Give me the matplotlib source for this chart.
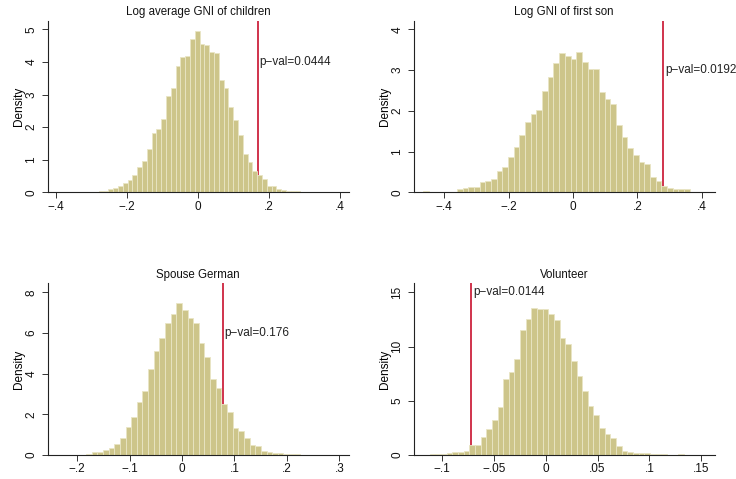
import matplotlib
matplotlib.use("Agg")
import matplotlib.pyplot as plt
import numpy as np

plt.rcParams['font.family'] = ['Liberation Sans', 'DejaVu Sans']

# --- data (density per bin, 50 bins per panel) ---
titles = ['Log average GNI of children', 'Log GNI of first son',
          'Spouse German', 'Volunteer']

dens_gni_children = [0.01, 0.02, 0.0, 0.0, 0.0, 0.01, 0.02, 0.03, 0.05, 0.09,
                     0.14, 0.2, 0.3, 0.37, 0.54, 0.77, 0.96, 1.33, 1.83, 1.95,
                     2.24, 2.95, 3.21, 3.87, 4.16, 4.2, 4.71, 4.95, 4.55, 4.52,
                     4.31, 4.28, 3.45, 3.19, 2.61, 2.22, 1.76, 1.18, 0.94, 0.66,
                     0.53, 0.4, 0.21, 0.19, 0.09, 0.06, 0.05, 0.04, 0.03, 0.02]
dens_gni_son = [0.03, 0.0, 0.02, 0.02, 0.02, 0.02, 0.08, 0.11, 0.13, 0.13,
                0.25, 0.29, 0.32, 0.52, 0.62, 0.88, 1.12, 1.4, 1.73, 1.92,
                2.03, 2.48, 2.83, 3.17, 3.41, 3.35, 3.27, 3.44, 3.19, 3.03,
                3.02, 2.45, 2.28, 2.16, 1.65, 1.37, 1.1, 0.92, 0.74, 0.7,
                0.37, 0.28, 0.16, 0.11, 0.09, 0.09, 0.09, 0.02, 0.02, 0.02]
dens_spouse = [0.02, 0.0, 0.0, 0.02, 0.02, 0.03, 0.13, 0.16, 0.25, 0.33,
               0.54, 0.84, 1.39, 1.87, 2.61, 3.15, 4.25, 5.11, 5.77, 6.51,
               6.92, 7.49, 7.13, 6.75, 6.48, 5.49, 4.84, 3.74, 3.31, 2.51,
               2.1, 1.34, 1.2, 0.84, 0.49, 0.43, 0.2, 0.16, 0.11, 0.08,
               0.05, 0.03, 0.03, 0.02, 0.0, 0.0, 0.0, 0.02, 0.02, 0.02]
dens_volunteer = [0.03, 0.05, 0.05, 0.1, 0.15, 0.25, 0.28, 0.38, 0.89, 0.95,
                  1.63, 2.4, 3.23, 4.43, 6.98, 7.65, 8.85, 11.5, 12.57, 13.56,
                  13.43, 13.5, 12.97, 12.45, 10.82, 10.27, 8.7, 7.25, 5.87, 4.55,
                  3.72, 2.49, 1.94, 1.54, 0.83, 0.4, 0.31, 0.22, 0.18, 0.15,
                  0.08, 0.06, 0.05, 0.04, 0.03, 0.05, 0.02, 0.01, 0.01, 0.03]

bin_start = [-0.3745, -0.466, -0.2367, -0.1171]
bin_width = [0.01355, 0.01762, 0.010757, 0.005439]
observed = [0.1685, 0.28, 0.0777, -0.0716]
pvals = ['0.0444', '0.0192', '0.176', '0.0144']
text_y = [4, 3, 6, 15]

xticks = [[-.4, -.2, 0, .2, .4], [-.4, -.2, 0, .2, .4],
          [-.2, -.1, 0, .1, .2, .3], [-.1, -.05, 0, .05, .1, .15]]
yticks = [[0, 1, 2, 3, 4, 5], [0, 1, 2, 3, 4], [0, 2, 4, 6, 8], [0, 5, 10, 15]]
xlims = [(-0.4235, 0.4254), (-0.495, 0.440), (-0.256, 0.318), (-0.1272, 0.1629)]
ylims = [5.27, 4.21, 8.44, 15.83]

all_dens = [dens_gni_children, dens_gni_son, dens_spouse, dens_volunteer]


def stata_fmt(v):
    if v == 0:
        return '0'
    s = ('%g' % abs(v)).lstrip('0')
    return ('\u2212' + s) if v < 0 else s


W, H = 736, 479
fig = plt.figure(figsize=(W / 100, H / 100), dpi=100)
boxes = [(47.7, 20.7), (413.7, 20.7), (47.7, 283.3), (413.7, 283.3)]
aw, ah = 301.0, 171.7

bar_fill = '#cdc58a'
bar_edge = '#e9e5c4'
line_col = '#c8102e'

for i in range(4):
    lx, ty = boxes[i]
    ax = fig.add_axes([lx / W, 1 - (ty + ah) / H, aw / W, ah / H])
    dens = np.array(all_dens[i])
    lefts = bin_start[i] + bin_width[i] * np.arange(len(dens))
    ax.axvline(observed[i], color=line_col, lw=1.2, zorder=1)
    ax.bar(lefts, dens, width=bin_width[i], align='edge', color=bar_fill,
           edgecolor=bar_edge, linewidth=0.6, zorder=2)
    ax.text(observed[i] + (xlims[i][1] - xlims[i][0]) * 0.006, text_y[i],
            'p\u2212val=' + pvals[i], fontsize=8.5, va='center', ha='left',
            color='#222222', zorder=3)

    ax.set_xlim(*xlims[i])
    ax.set_ylim(0, ylims[i])
    ax.set_xticks(xticks[i])
    ax.set_xticklabels([stata_fmt(v) for v in xticks[i]])
    ax.set_yticks(yticks[i])
    ax.set_yticklabels([str(v) for v in yticks[i]], rotation=90, va='center')
    ax.tick_params(length=4.5, width=0.7, color='#333333', labelsize=8.5,
                   labelcolor='#111111')
    ax.tick_params(axis='y', pad=3)
    ax.tick_params(axis='x', pad=1.5)
    for side in ['top', 'right']:
        ax.spines[side].set_visible(False)
    for side in ['left', 'bottom']:
        ax.spines[side].set_linewidth(0.8)
        ax.spines[side].set_color('#222222')
    ax.set_ylabel('Density', fontsize=8.5, labelpad=0.5)
    ax.set_title(titles[i], fontsize=8.3, pad=4, color='#111111')

fig.savefig('out.png', dpi=100, facecolor='white')
